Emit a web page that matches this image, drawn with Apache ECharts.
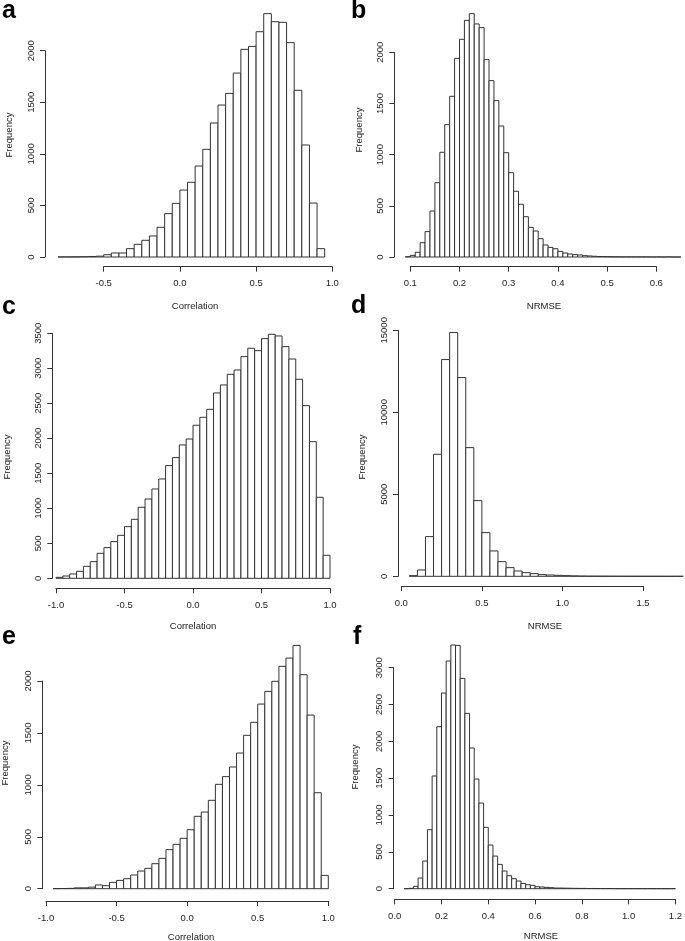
<!DOCTYPE html>
<html>
<head>
<meta charset="utf-8">
<script src="https://cdn.jsdelivr.net/npm/echarts@6/dist/echarts.min.js"></script>
<style>
  html, body { margin: 0; padding: 0; background: #fff; }
  #chart { width: 685px; height: 941px; }
</style>
</head>
<body>
<div id="chart"></div>
<script>
// ---- Data (histogram bin starts, bin widths, counts) ----
const aStart = -0.8, aWidth = 0.05;
const aCounts = [1, 1, 2, 3, 5, 8, 22, 39, 39, 81, 123, 162, 204, 288, 420, 520,
  649, 724, 882, 1044, 1299, 1473, 1586, 1783, 2013, 2042, 2184, 2359, 2281, 2275, 2078, 1616, 1086, 523, 81];

const bStart = 0.09, bWidth = 0.01;
const bCounts = [3, 16, 46, 140, 248, 449, 726, 1023, 1293, 1570, 1941, 2127, 2312, 2378, 2277, 2241,
  1928, 1723, 1528, 1280, 1019, 824, 642, 515, 394, 290, 254, 179, 117, 94, 81, 55, 39, 29, 23, 20,
  13, 10, 7, 5, 4, 3, 2, 2, 1, 1, 1, 1, 1, 1, 0, 1, 0, 1, 0, 0];

const cStart = -1.0, cWidth = 0.05;
const cCounts = [14, 33, 62, 100, 171, 238, 357, 438, 524, 614, 738, 843, 1014, 1133, 1276, 1419,
  1610, 1724, 1905, 1990, 2186, 2300, 2414, 2648, 2762, 2914, 2976, 3167, 3286, 3252, 3424, 3486,
  3462, 3310, 3133, 2843, 2467, 1952, 1157, 329];

const dStart = 0.05, dWidth = 0.05;
const dCounts = [40, 386, 2419, 7440, 13215, 14862, 12117, 7846, 4614, 2663, 1545, 894, 528, 325,
  224, 163, 102, 81, 61, 40, 25, 15, 10, 8, 6, 5, 4, 3, 3, 2, 2, 2, 1, 1];

const eStart = -0.95, eWidth = 0.05;
const eCounts = [1, 2, 3, 8, 8, 15, 36, 29, 61, 80, 96, 132, 170, 196, 241, 292, 376, 427, 485, 568,
  697, 738, 851, 1005, 1079, 1172, 1306, 1477, 1602, 1778, 1900, 1997, 2141, 2221, 2343, 2061, 1672, 924, 128];

const fStart = 0.04, fWidth = 0.02;
const fCounts = [0, 5, 32, 145, 376, 801, 1530, 2199, 2656, 3091, 3308, 3303, 2855, 2380, 1910, 1489,
  1163, 833, 593, 443, 330, 240, 176, 136, 104, 72, 54, 45, 27, 23, 18, 14, 9, 9,
  7, 6, 5, 4, 4, 3, 3, 2, 2, 2, 2, 1, 1, 1, 1, 1, 1, 0, 1, 0, 1, 0, 0, 1];

// Axis tick settings
const aX = {min: -0.5, max: 1.0, interval: 0.5}, aY = {min: 0, max: 2000, interval: 500};
const bX = {min: 0.1, max: 0.6, interval: 0.1}, bY = {min: 0, max: 2000, interval: 500};
const cX = {min: -1.0, max: 1.0, interval: 0.5}, cY = {min: 0, max: 3500, interval: 500};
const dX = {min: 0.0, max: 1.5, interval: 0.5}, dY = {min: 0, max: 15000, interval: 5000};
const eX = {min: -1.0, max: 1.0, interval: 0.5}, eY = {min: 0, max: 2000, interval: 500};
const fX = {min: 0.0, max: 1.2, interval: 0.2}, fY = {min: 0, max: 3000, interval: 500};

const letters = ['a', 'b', 'c', 'd', 'e', 'f'];
const xNames = ['Correlation', 'NRMSE', 'Correlation', 'NRMSE', 'Correlation', 'NRMSE'];
const yName = 'Frequency';

// ---- Layout (pixels) ----
const W = 685, H = 941;
const panels = [
  {start: aStart, width: aWidth, counts: aCounts, x: aX, y: aY,
   grid: {l: 103.7, r: 332.3, t: 50.7, b: 257}, xAxisY: 266.7, yAxisX: 45,
   letter: [2, 11], xl: [195, 306], yl: [9.5, 135]},
  {start: bStart, width: bWidth, counts: bCounts, x: bX, y: bY,
   grid: {l: 410.3, r: 656.3, t: 52.3, b: 257}, xAxisY: 266.7, yAxisX: 394.3,
   letter: [351, 11], xl: [544, 306], yl: [359, 130]},
  {start: cStart, width: cWidth, counts: cCounts, x: cX, y: cY,
   grid: {l: 56, r: 330, t: 333.3, b: 578.3}, xAxisY: 588.3, yAxisX: 52.3,
   letter: [2, 307], xl: [193, 626], yl: [7.5, 457]},
  {start: dStart, width: dWidth, counts: dCounts, x: dX, y: dY,
   grid: {l: 401.3, r: 643, t: 330.3, b: 576.3}, xAxisY: 586, yAxisX: 398,
   letter: [351, 306], xl: [545, 626], yl: [362, 457]},
  {start: eStart, width: eWidth, counts: eCounts, x: eX, y: eY,
   grid: {l: 46, r: 328.3, t: 681, b: 888.7}, xAxisY: 901, yAxisX: 42.3,
   letter: [2, 637], xl: [191, 937], yl: [5.5, 763]},
  {start: fStart, width: fWidth, counts: fCounts, x: fX, y: fY,
   grid: {l: 394.7, r: 678, t: 667.7, b: 888.7}, xAxisY: 899.3, yAxisX: 393.7,
   letter: [353, 637], xl: [541, 936], yl: [355.5, 767]}
];

const INK = '#333';
const TXT = '#222';
const FONT = 'Liberation Sans, Arial, Helvetica, sans-serif';

const grids = [], xAxes = [], yAxes = [], series = [], graphics = [];

panels.forEach((p, i) => {
  grids.push({
    left: p.grid.l, width: p.grid.r - p.grid.l,
    top: p.grid.t, height: p.grid.b - p.grid.t,
    containLabel: false
  });
  xAxes.push({
    type: 'value', gridIndex: i, position: 'bottom',
    min: p.x.min, max: p.x.max, interval: p.x.interval,
    offset: p.xAxisY - p.grid.b,
    axisLine: {show: true, onZero: false, lineStyle: {color: INK, width: 1}},
    axisTick: {show: true, length: 5, lineStyle: {color: INK, width: 1}},
    splitLine: {show: false},
    axisLabel: {color: TXT, fontSize: 9.5, fontFamily: FONT, margin: 12,
      formatter: v => Number(v).toFixed(1)}
  });
  yAxes.push({
    type: 'value', gridIndex: i, position: 'left',
    min: p.y.min, max: p.y.max, interval: p.y.interval,
    offset: p.grid.l - p.yAxisX,
    axisLine: {show: true, onZero: false, lineStyle: {color: INK, width: 1}},
    axisTick: {show: true, length: 5, lineStyle: {color: INK, width: 1}},
    splitLine: {show: false},
    axisLabel: {color: TXT, fontSize: 9.5, fontFamily: FONT, margin: 9, rotate: 90,
      formatter: v => String(Math.round(v))}
  });
  const data = p.counts.map((c, k) => {
    const x0 = +(p.start + k * p.width).toFixed(4);
    const x1 = +(p.start + (k + 1) * p.width).toFixed(4);
    return [x0, x1, c];
  });
  series.push({
    type: 'custom', xAxisIndex: i, yAxisIndex: i,
    clip: false, silent: true,
    encode: {x: [0, 1], y: 2},
    data: data,
    renderItem: (params, api) => {
      const p0 = api.coord([api.value(0), 0]);
      const p1 = api.coord([api.value(1), api.value(2)]);
      return {
        type: 'rect',
        shape: {x: p0[0], y: p1[1], width: p1[0] - p0[0], height: p0[1] - p1[1]},
        style: {fill: '#ffffff', stroke: INK, lineWidth: 1}
      };
    }
  });
  graphics.push({
    type: 'text', x: p.letter[0], y: p.letter[1],
    style: {text: letters[i], font: 'bold 25px ' + FONT, fill: '#000',
      align: 'left', verticalAlign: 'middle'}
  });
  graphics.push({
    type: 'text', x: p.xl[0], y: p.xl[1],
    style: {text: xNames[i], font: '9.5px ' + FONT, fill: TXT, align: 'center', verticalAlign: 'middle'}
  });
  graphics.push({
    type: 'text', x: p.yl[0], y: p.yl[1], rotation: Math.PI / 2,
    style: {text: yName, font: '9.5px ' + FONT, fill: TXT, align: 'center', verticalAlign: 'middle'}
  });
});

const chart = echarts.init(document.getElementById('chart'), null, {renderer: 'canvas', width: W, height: H});
chart.setOption({
  backgroundColor: '#ffffff',
  animation: false,
  grid: grids,
  xAxis: xAxes,
  yAxis: yAxes,
  series: series,
  graphic: graphics
});
</script>
</body>
</html>
